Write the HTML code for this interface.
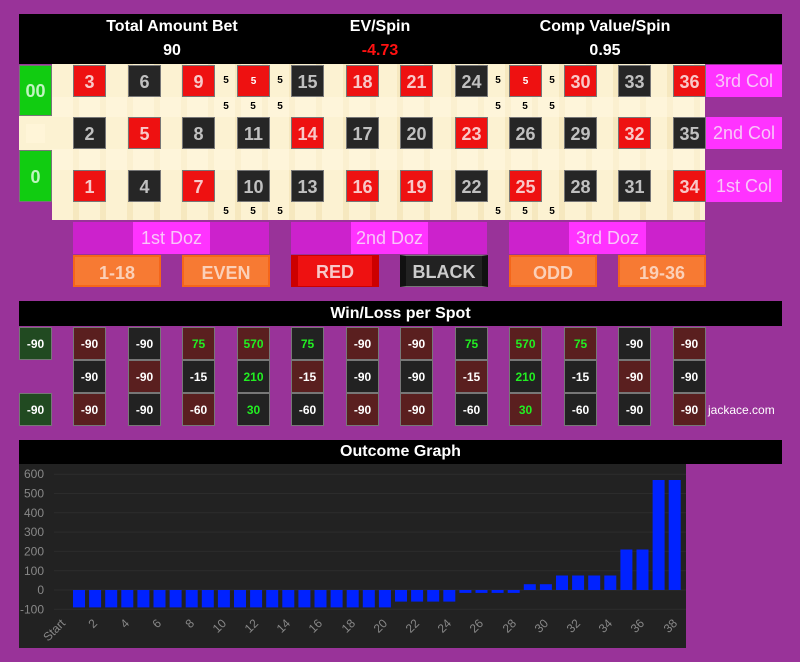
<!DOCTYPE html>
<html><head><meta charset="utf-8"><style>
*{margin:0;padding:0;box-sizing:border-box}
body{width:800px;height:662px;background:#993399;position:relative;overflow:hidden;font-family:"Liberation Sans",Arial,sans-serif;font-weight:bold}
div{position:absolute}
.h{background:#000;color:#fff;text-align:center;font-size:16px}
.t{color:#fff;font-size:16px;text-align:center;width:240px}
.n{width:33px;height:32px;font-size:18px;text-align:center;line-height:32px;border:1px solid #777}
.r{background:#ee1111;color:#f8c8c8}
.b{background:#262626;color:#c0c0c0}
.c{font-size:10px;color:#000;width:14px;text-align:center}
.col{left:706px;width:76px;height:32px;background:#ff33ff;color:#f9c6f9;font-size:18px;text-align:center;line-height:32px;font-weight:normal}
.dz{top:222px;width:196px;height:32px;background:#cc22cc}
.dz span{position:absolute;left:60px;top:0;width:77px;height:32px;background:#ff33ff;color:#f9c6f9;font-size:18px;line-height:32px;text-align:center;font-weight:normal}
.ob{top:255px;width:88px;height:32px;font-size:18px;text-align:center;line-height:32px}
.o{background:#f77a33;color:#fbd0b8;border:2px solid #f5661a}
.w{width:33px;height:33px;font-size:12px;text-align:center;line-height:33px;color:#fff;border:1px solid #777}
.wr{background:#5a1f1f}.wb{background:#222}.wg{background:#214a21}
.p{color:#22ee22}
svg text{font-weight:normal}
</style></head><body>
<div class="h" style="left:19px;top:14px;width:763px;height:50px"></div>
<div class="t" style="left:52px;top:18px">Total Amount Bet</div>
<div class="t" style="left:52px;top:42px">90</div>
<div class="t" style="left:260px;top:18px">EV/Spin</div>
<div class="t" style="left:260px;top:42px;color:#ff1111">-4.73</div>
<div class="t" style="left:485px;top:18px">Comp Value/Spin</div>
<div class="t" style="left:485px;top:42px">0.95</div>

<div style="left:52px;top:64px;width:653px;height:156px;background:repeating-linear-gradient(90deg,#fcf2d2 0 21px,#f6e8bf 21px 27px);"></div>
<div style="left:52px;top:97px;width:653px;height:20px;background:rgba(255,248,225,.5)"></div>
<div style="left:52px;top:149px;width:653px;height:21px;background:rgba(255,248,225,.5)"></div>
<div style="left:19px;top:65px;width:33px;height:51px;background:#11cc11;color:#bff5bf;font-size:18px;text-align:center;line-height:51px;border:1px solid #777">00</div>
<div style="left:19px;top:116px;width:33px;height:34px;background:#fcf2d2"></div>
<div style="left:26px;top:124px;width:19px;height:19px;background:#fff5d8"></div>
<div style="left:19px;top:150px;width:33px;height:52px;background:#11cc11;color:#bff5bf;font-size:18px;text-align:center;line-height:52px;border:1px solid #777">0</div>

<div class="n r" style="left:73px;top:65px">3</div><div class="n b" style="left:73px;top:117px">2</div><div class="n r" style="left:73px;top:170px">1</div>
<div class="n b" style="left:128px;top:65px">6</div><div class="n r" style="left:128px;top:117px">5</div><div class="n b" style="left:128px;top:170px">4</div>
<div class="n r" style="left:182px;top:65px">9</div><div class="n b" style="left:182px;top:117px">8</div><div class="n r" style="left:182px;top:170px">7</div>
<div class="n r" style="left:237px;top:65px;font-size:10px;color:#fff">5</div><div class="n b" style="left:237px;top:117px">11</div><div class="n b" style="left:237px;top:170px">10</div>
<div class="n b" style="left:291px;top:65px">15</div><div class="n r" style="left:291px;top:117px">14</div><div class="n b" style="left:291px;top:170px">13</div>
<div class="n r" style="left:346px;top:65px">18</div><div class="n b" style="left:346px;top:117px">17</div><div class="n r" style="left:346px;top:170px">16</div>
<div class="n r" style="left:400px;top:65px">21</div><div class="n b" style="left:400px;top:117px">20</div><div class="n r" style="left:400px;top:170px">19</div>
<div class="n b" style="left:455px;top:65px">24</div><div class="n r" style="left:455px;top:117px">23</div><div class="n b" style="left:455px;top:170px">22</div>
<div class="n r" style="left:509px;top:65px;font-size:10px;color:#fff">5</div><div class="n b" style="left:509px;top:117px">26</div><div class="n r" style="left:509px;top:170px">25</div>
<div class="n r" style="left:564px;top:65px">30</div><div class="n b" style="left:564px;top:117px">29</div><div class="n b" style="left:564px;top:170px">28</div>
<div class="n b" style="left:618px;top:65px">33</div><div class="n r" style="left:618px;top:117px">32</div><div class="n b" style="left:618px;top:170px">31</div>
<div class="n r" style="left:673px;top:65px">36</div><div class="n b" style="left:673px;top:117px">35</div><div class="n r" style="left:673px;top:170px">34</div>

<div class="c" style="left:219px;top:75px">5</div><div class="c" style="left:273px;top:75px">5</div>
<div class="c" style="left:219px;top:101px">5</div><div class="c" style="left:246px;top:101px">5</div><div class="c" style="left:273px;top:101px">5</div>
<div class="c" style="left:219px;top:206px">5</div><div class="c" style="left:246px;top:206px">5</div><div class="c" style="left:273px;top:206px">5</div>
<div class="c" style="left:491px;top:75px">5</div><div class="c" style="left:545px;top:75px">5</div>
<div class="c" style="left:491px;top:101px">5</div><div class="c" style="left:518px;top:101px">5</div><div class="c" style="left:545px;top:101px">5</div>
<div class="c" style="left:491px;top:206px">5</div><div class="c" style="left:518px;top:206px">5</div><div class="c" style="left:545px;top:206px">5</div>

<div class="col" style="top:65px">3rd Col</div>
<div class="col" style="top:117px">2nd Col</div>
<div class="col" style="top:170px">1st Col</div>

<div class="dz" style="left:73px"><span>1st Doz</span></div>
<div class="dz" style="left:291px"><span>2nd Doz</span></div>
<div class="dz" style="left:509px"><span>3rd Doz</span></div>

<div class="ob o" style="left:73px">1-18</div>
<div class="ob o" style="left:182px">EVEN</div>
<div class="ob" style="left:291px;background:#ee1111;color:#f8c8c8;border:2px solid #cc0000;border-width:1px 7px">RED</div>
<div class="ob" style="left:400px;background:#222;color:#ccc;border:1px solid #777;border-width:1px 6px;border-color:#777 #111">BLACK</div>
<div class="ob o" style="left:509px">ODD</div>
<div class="ob o" style="left:618px">19-36</div>

<div class="h" style="left:19px;top:301px;width:763px;height:25px;line-height:25px">Win/Loss per Spot</div>
<div class="w wg" style="left:19px;top:327px">-90</div>
<div class="w wg" style="left:19px;top:393px">-90</div>

<div class="w wr" style="left:73px;top:327px">-90</div><div class="w wb" style="left:73px;top:360px">-90</div><div class="w wr" style="left:73px;top:393px">-90</div>
<div class="w wb" style="left:128px;top:327px">-90</div><div class="w wr" style="left:128px;top:360px">-90</div><div class="w wb" style="left:128px;top:393px">-90</div>
<div class="w wr p" style="left:182px;top:327px">75</div><div class="w wb" style="left:182px;top:360px">-15</div><div class="w wr" style="left:182px;top:393px">-60</div>
<div class="w wr p" style="left:237px;top:327px">570</div><div class="w wb p" style="left:237px;top:360px">210</div><div class="w wb p" style="left:237px;top:393px">30</div>
<div class="w wb p" style="left:291px;top:327px">75</div><div class="w wr" style="left:291px;top:360px">-15</div><div class="w wb" style="left:291px;top:393px">-60</div>
<div class="w wr" style="left:346px;top:327px">-90</div><div class="w wb" style="left:346px;top:360px">-90</div><div class="w wr" style="left:346px;top:393px">-90</div>
<div class="w wr" style="left:400px;top:327px">-90</div><div class="w wb" style="left:400px;top:360px">-90</div><div class="w wr" style="left:400px;top:393px">-90</div>
<div class="w wb p" style="left:455px;top:327px">75</div><div class="w wr" style="left:455px;top:360px">-15</div><div class="w wb" style="left:455px;top:393px">-60</div>
<div class="w wr p" style="left:509px;top:327px">570</div><div class="w wb p" style="left:509px;top:360px">210</div><div class="w wr p" style="left:509px;top:393px">30</div>
<div class="w wr p" style="left:564px;top:327px">75</div><div class="w wb" style="left:564px;top:360px">-15</div><div class="w wb" style="left:564px;top:393px">-60</div>
<div class="w wb" style="left:618px;top:327px">-90</div><div class="w wr" style="left:618px;top:360px">-90</div><div class="w wb" style="left:618px;top:393px">-90</div>
<div class="w wr" style="left:673px;top:327px">-90</div><div class="w wb" style="left:673px;top:360px">-90</div><div class="w wr" style="left:673px;top:393px">-90</div>
<div style="left:708px;top:403px;font-size:12px;color:#fff;font-weight:normal">jackace.com</div>

<div class="h" style="left:19px;top:440px;width:763px;height:24px;line-height:24px">Outcome Graph</div>
<svg style="position:absolute;left:0;top:0" width="800" height="662" font-family="Liberation Sans, Arial, sans-serif">
<rect x="19" y="464" width="667" height="184" fill="#222"/>
<g stroke="#2c2c2c" stroke-width="1">
<line x1="54" x2="686" y1="474.2" y2="474.2"/><line x1="54" x2="686" y1="493.5" y2="493.5"/><line x1="54" x2="686" y1="512.8" y2="512.8"/><line x1="54" x2="686" y1="532.1" y2="532.1"/><line x1="54" x2="686" y1="551.4" y2="551.4"/><line x1="54" x2="686" y1="570.7" y2="570.7"/><line x1="54" x2="686" y1="590" y2="590"/><line x1="54" x2="686" y1="609.3" y2="609.3"/>
</g>
<g fill="#888" font-size="12" text-anchor="end">
<text x="44" y="478">600</text><text x="44" y="497.5">500</text><text x="44" y="517">400</text><text x="44" y="536">300</text><text x="44" y="555.5">200</text><text x="44" y="575">100</text><text x="44" y="594">0</text><text x="44" y="613.5">-100</text>
</g>
<g fill="#0022ff">
<rect x="73" y="590" width="12" height="17.4"/><rect x="89.1" y="590" width="12" height="17.4"/><rect x="105.2" y="590" width="12" height="17.4"/><rect x="121.3" y="590" width="12" height="17.4"/><rect x="137.4" y="590" width="12" height="17.4"/><rect x="153.5" y="590" width="12" height="17.4"/><rect x="169.6" y="590" width="12" height="17.4"/><rect x="185.7" y="590" width="12" height="17.4"/><rect x="201.8" y="590" width="12" height="17.4"/><rect x="217.9" y="590" width="12" height="17.4"/><rect x="234" y="590" width="12" height="17.4"/><rect x="250.1" y="590" width="12" height="17.4"/><rect x="266.2" y="590" width="12" height="17.4"/><rect x="282.3" y="590" width="12" height="17.4"/><rect x="298.4" y="590" width="12" height="17.4"/><rect x="314.5" y="590" width="12" height="17.4"/><rect x="330.6" y="590" width="12" height="17.4"/><rect x="346.7" y="590" width="12" height="17.4"/><rect x="362.8" y="590" width="12" height="17.4"/><rect x="378.9" y="590" width="12" height="17.4"/>
<rect x="395" y="590" width="12" height="11.6"/><rect x="411.1" y="590" width="12" height="11.6"/><rect x="427.2" y="590" width="12" height="11.6"/><rect x="443.3" y="590" width="12" height="11.6"/>
<rect x="459.4" y="590" width="12" height="2.9"/><rect x="475.5" y="590" width="12" height="2.9"/><rect x="491.6" y="590" width="12" height="2.9"/><rect x="507.7" y="590" width="12" height="2.9"/>
<rect x="523.8" y="584.2" width="12" height="5.8"/><rect x="539.9" y="584.2" width="12" height="5.8"/>
<rect x="556" y="575.5" width="12" height="14.5"/><rect x="572.1" y="575.5" width="12" height="14.5"/><rect x="588.2" y="575.5" width="12" height="14.5"/><rect x="604.3" y="575.5" width="12" height="14.5"/>
<rect x="620.4" y="549.5" width="12" height="40.5"/><rect x="636.5" y="549.5" width="12" height="40.5"/>
<rect x="652.6" y="480" width="12" height="110"/><rect x="668.7" y="480" width="12" height="110"/>
</g>
<g fill="#888" font-size="12" text-anchor="end">
<text transform="translate(66,624) rotate(-45)">Start</text>
<text transform="translate(98,624) rotate(-45)">2</text>
<text transform="translate(130,624) rotate(-45)">4</text>
<text transform="translate(162,624) rotate(-45)">6</text>
<text transform="translate(195,624) rotate(-45)">8</text>
<text transform="translate(227,624) rotate(-45)">10</text>
<text transform="translate(259,624) rotate(-45)">12</text>
<text transform="translate(291,624) rotate(-45)">14</text>
<text transform="translate(323,624) rotate(-45)">16</text>
<text transform="translate(356,624) rotate(-45)">18</text>
<text transform="translate(388,624) rotate(-45)">20</text>
<text transform="translate(420,624) rotate(-45)">22</text>
<text transform="translate(452,624) rotate(-45)">24</text>
<text transform="translate(484,624) rotate(-45)">26</text>
<text transform="translate(517,624) rotate(-45)">28</text>
<text transform="translate(549,624) rotate(-45)">30</text>
<text transform="translate(581,624) rotate(-45)">32</text>
<text transform="translate(613,624) rotate(-45)">34</text>
<text transform="translate(645,624) rotate(-45)">36</text>
<text transform="translate(678,624) rotate(-45)">38</text>
</g>
</svg>
</body></html>
